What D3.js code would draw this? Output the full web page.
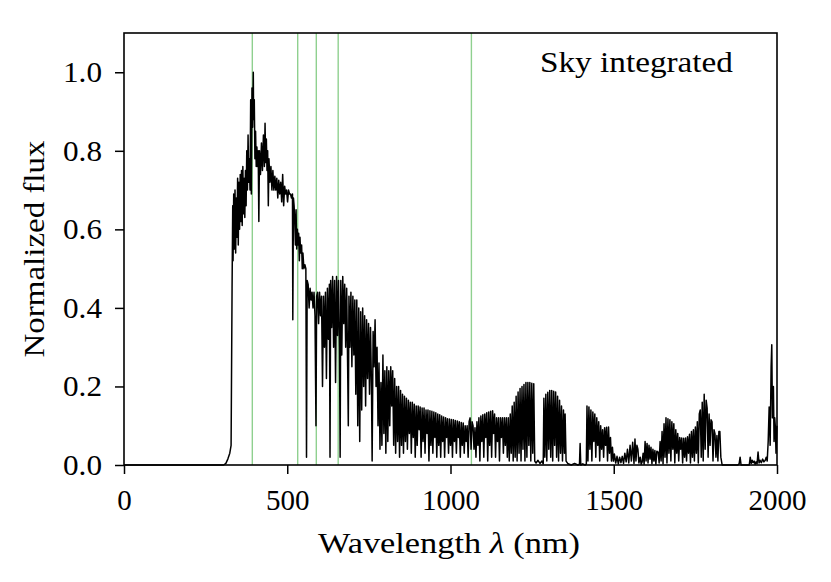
<!DOCTYPE html>
<html>
<head>
<meta charset="utf-8">
<script src="https://cdn.jsdelivr.net/npm/d3@7"></script>
<style>
  body { margin: 0; background: #fff; }
  text { font-family: "Liberation Serif", "DejaVu Serif", serif; fill: #000; }
</style>
</head>
<body>
<div id="chart"></div>
<script>
// [wavelength nm, normalized flux], band by band
const ultraviolet = [
  [0,0],[305,0],[312,0.004],[318,0.015],[324,0.03],[328,0.05],[331,0.45],
  [333,0.66],[334,0.52],[336,0.69],[338,0.55],[340,0.70],[342,0.54],[344,0.68],
  [346,0.58],[348,0.73],[350,0.56],[352,0.72],[354,0.60],[356,0.74],[358,0.62],
  [360,0.75],[362,0.61],[364,0.76],[366,0.64],[368,0.73],[370,0.63],[372,0.75],
  [374,0.66],[376,0.80],[378,0.70],[380,0.84],[382,0.72],[384,0.78],[386,0.70],
  [388,0.93],[390,0.69],[392,0.96],[394,0.86],[396,1.0],[397,0.88]
]
const blueGreen = [
  [399,0.93],[401,0.78],[403,0.85],[405,0.76],[407,0.81],[409,0.76],[411,0.80],
  [413,0.62],[415,0.80],[418,0.74],[421,0.82],[424,0.75],[427,0.84],[430,0.76],
  [432,0.87],[434,0.77],[436,0.83],[438,0.75],[440,0.80],[442,0.66],[444,0.78],
  [447,0.72],[450,0.76],[453,0.70],[456,0.75],[459,0.70],[462,0.735],[465,0.70],
  [468,0.73],[471,0.68],[474,0.725],[477,0.69],[480,0.72],[483,0.67],[486,0.74],
  [489,0.66],[492,0.71],[495,0.69],[498,0.70],[501,0.67],[504,0.70],[507,0.69],
  [510,0.69],[513,0.68],[516,0.69],[517,0.37],[519,0.68],[521,0.66],[523,0.62],
  [525,0.56],[527,0.65],[529,0.55],[531,0.60],[533,0.56],[535,0.59],[537,0.52],
  [539,0.58],[541,0.54],[544,0.56],[546,0.50],[548,0.54],[551,0.50],[554,0.51],
  [557,0.50]
]
const redBand = [
  [559,0.02],[561,0.47],[564,0.46],[567,0.40],[570,0.45],[573,0.42],[576,0.44],
  [579,0.40],[582,0.44],[585,0.38],[588,0.10],[590,0.43],[593,0.44],[596,0.36],
  [599,0.44],[602,0.38],[605,0.43],[608,0.20],[611,0.43],[614,0.30],[617,0.44],
  [620,0.22],[623,0.45],[626,0.32],[629,0.46],[631,0.02],[633,0.47],[636,0.35],
  [639,0.48],[642,0.30],[645,0.47],[648,0.21],[651,0.48],[654,0.33],[657,0.47],
  [660,0.30],[662,0.02],[664,0.47],[667,0.28],[670,0.48],[673,0.36],[676,0.46],
  [679,0.30],[682,0.45],[685,0.25],[687,0.10],[689,0.43],[692,0.30],[695,0.44],
  [698,0.25],[701,0.43],[704,0.28],[707,0.42],[710,0.18],[713,0.42],[716,0.10],
  [719,0.40],[722,0.06],[725,0.39],[728,0.14],[731,0.40],[734,0.20],[737,0.38],
  [740,0.15],[743,0.37],[746,0.22],[749,0.36],[752,0.18],[755,0.35],[758,0.20],
  [760,0.01],[763,0.34],[766,0.25],[769,0.37],[772,0.20],[775,0.30]
]
const nearInfrared = [
  [778,0.10],[781,0.26],[784,0.04],[787,0.21],[790,0.05],[793,0.28],[796,0.08],
  [799,0.24],[802,0.03],[805,0.25],[808,0.06],[811,0.24],[814,0.10],[817,0.25],
  [820,0.15],[823,0.24],[826,0.05],[829,0.22],[832,0.03],[835,0.20],[838,0.06],
  [841,0.20],[844,0.02],[847,0.19],[850,0.05],[853,0.18],[856,0.03],[859,0.175],
  [862,0.06],[865,0.17],[868,0.04],[871,0.165],[874,0.08],[877,0.16],[880,0.03],
  [883,0.16],[886,0.07],[889,0.155],[892,0.02],[895,0.15],[898,0.05],[901,0.15],
  [904,0.09],[907,0.148],[910,0.02],[913,0.145],[916,0.06],[919,0.145],[922,0.03],
  [925,0.14],[928,0.08],[931,0.14],[934,0.01],[937,0.138],[940,0.05],[943,0.137],
  [946,0.03],[949,0.135],[952,0.07],[955,0.133],[958,0.02],[961,0.13],[964,0.05],
  [967,0.128],[970,0.02],[973,0.125],[976,0.06],[979,0.122],[982,0.02],[985,0.12],
  [988,0.07],[991,0.118],[994,0.03],[997,0.117],[1000,0.05],[1003,0.116],[1006,0.02],
  [1009,0.115],[1012,0.06],[1015,0.113],[1018,0.03],[1021,0.112],[1024,0.07],
  [1027,0.11],[1030,0.02],[1033,0.108],[1036,0.05],[1039,0.107],[1042,0.03],
  [1045,0.10],[1048,0.06],[1051,0.10],[1054,0.02],[1057,0.11],[1060,0.12],
  [1063,0.04],[1066,0.11],[1069,0.10]
]
const jBand = [
  [1072,0.04],[1075,0.095],[1078,0.02],[1081,0.11],[1084,0.05],[1087,0.12],
  [1090,0.01],[1093,0.125],[1096,0.06],[1099,0.128],[1102,0.02],[1105,0.13],
  [1108,0.07],[1111,0.133],[1114,0.01],[1117,0.135],[1120,0.05],[1123,0.137],
  [1126,0.02],[1129,0.138],[1132,0.08],[1135,0.13],[1138,0.02],[1141,0.12],
  [1144,0.06],[1147,0.12],[1150,0.01],[1153,0.12],[1156,0.07],[1159,0.12],
  [1162,0.03],[1165,0.12],[1168,0.05],[1171,0.12],[1174,0.02],[1177,0.12],
  [1180,0.01],[1183,0.13],[1186,0.03],[1189,0.15],[1192,0.01],[1195,0.16],
  [1198,0.02],[1201,0.175],[1204,0.01],[1207,0.186],[1210,0.03],[1213,0.195],
  [1216,0.01],[1219,0.20],[1222,0.04],[1225,0.205],[1228,0.01],[1231,0.21],
  [1234,0.02],[1237,0.21],[1240,0.05],[1243,0.21],[1246,0.01],[1249,0.208],
  [1252,0.03],[1255,0.207],[1258,0.01],[1262,0.005],[1268,0.012],[1274,0.004],
  [1280,0.01],[1284,0.003],[1286,0.17],[1289,0.02],[1292,0.18],[1295,0.01],
  [1298,0.185],[1301,0.04],[1304,0.19],[1307,0.02],[1310,0.19],[1313,0.01],
  [1316,0.188],[1319,0.05],[1322,0.186],[1325,0.02],[1328,0.175],[1331,0.01],
  [1334,0.165],[1337,0.03],[1340,0.15],[1343,0.01],[1346,0.14],[1349,0.03],
  [1351,0.13],[1354,0.01],[1360,0.003],[1370,0],[1380,0.004],[1390,0],
  [1395,0.002],[1397,0.055],[1399,0],[1405,0.003],[1412,0],[1416,0.002]
]
const hBand = [
  [1418,0.15],[1421,0.01],[1424,0.148],[1427,0.04],[1430,0.14],[1433,0.01],
  [1436,0.135],[1439,0.06],[1442,0.13],[1445,0.02],[1448,0.12],[1451,0.05],
  [1454,0.11],[1457,0.01],[1460,0.10],[1463,0.04],[1466,0.09],[1469,0.02],
  [1472,0.095],[1475,0.05],[1478,0.096],[1481,0.01],[1484,0.097],[1487,0.03],
  [1490,0.07],[1493,0.01],[1496,0.045],[1499,0.01],[1502,0.028],[1506,0.005],
  [1510,0.022],[1514,0.003],[1518,0.02],[1522,0.006],[1526,0.022],[1530,0.004],
  [1534,0.03],[1538,0.008],[1542,0.04],[1546,0.005],[1550,0.05],[1554,0.01],
  [1558,0.058],[1562,0.004],[1565,0.066],[1568,0.01],[1571,0.05],[1574,0.04],
  [1577,0.005],[1581,0.02],[1584,0.002],[1587,0.008],[1590,0.03],[1593,0.002],
  [1596,0.06],[1599,0.01],[1602,0.055],[1605,0.005],[1608,0.05],[1611,0.015],
  [1614,0.045],[1617,0.003],[1620,0.04],[1623,0.01],[1626,0.037],[1629,0.002],
  [1632,0.035],[1636,0.033],[1639,0.005],[1642,0.06],[1645,0.01],[1648,0.085],
  [1651,0.003],[1654,0.105],[1657,0.02],[1660,0.12],[1663,0.005],[1666,0.118],
  [1669,0.03],[1672,0.115],[1675,0.01],[1678,0.11],[1681,0.04],[1684,0.105],
  [1687,0.005],[1690,0.09],[1693,0.03],[1696,0.08],[1699,0.01],[1702,0.07],
  [1705,0.04],[1708,0.069],[1711,0.005],[1714,0.068],[1717,0.02],[1720,0.069],
  [1723,0.01],[1726,0.072],[1729,0.03],[1732,0.078],[1735,0.005],[1738,0.085],
  [1741,0.02],[1744,0.09],[1747,0.01],[1750,0.097],[1753,0.03],[1756,0.11],
  [1759,0.005],[1762,0.13],[1765,0.14],[1768,0.02],[1771,0.16],[1774,0.01],
  [1777,0.18],[1780,0.04],[1783,0.165],[1786,0.145],[1789,0.02],[1792,0.13],
  [1795,0.05],[1798,0.115],[1801,0.11],[1804,0.01],[1807,0.09],[1810,0.08],
  [1813,0.02],[1816,0.075],[1819,0.01],[1822,0.085],[1825,0.085],[1828,0.02],
  [1832,0]
]
const kEdge = [
  [1880,0],[1884,0.003],[1887,0.02],[1890,0],[1915,0],[1918,0.02],[1921,0.004],
  [1924,0.012],[1927,0.006],[1930,0.01],[1933,0.002],[1936,0.008],[1939,0.003],
  [1942,0.033],[1945,0.005],[1948,0.012],[1952,0.006],[1956,0.015],[1960,0.008],
  [1964,0.012],[1967,0.02],[1970,0.01],[1973,0.06],[1976,0.148],[1979,0.05],
  [1982,0.25],[1984,0.306],[1986,0.12],[1989,0.2],[1991,0.06],[1993,0.12],
  [1995,0.097],[1997,0.03],[2000,0.1]
]
const markerLines = [393, 532, 589, 656, 1064]
const xTicks = [0, 500, 1000, 1500, 2000]
const yTicks = [0, 0.2, 0.4, 0.6, 0.8, 1.0]

const spectrum = [].concat(ultraviolet, blueGreen, redBand, nearInfrared, jBand, hBand, kEdge)

const W = 831, H = 582
const MARGIN = {left: 124, right: 54, top: 33, bottom: 117}
const FS = 29

let svg = d3.select("#chart").append("svg").attr("width", W).attr("height", H)

let x = d3.scaleLinear().domain([0, 2000]).range([MARGIN.left, W - MARGIN.right])
let y = d3.scaleLinear().domain([0, 1.1]).range([H - MARGIN.bottom, MARGIN.top])

let plot = svg.append("g")

plot.selectAll(".marker")
  .data(markerLines)
  .enter().append("line")
  .attr("class", "marker")
  .attr("x1", d => x(d)).attr("x2", d => x(d))
  .attr("y1", y(0)).attr("y2", y(1.1))
  .attr("stroke", "#8fd08f")
  .attr("stroke-width", 1.4)

plot.append("path")
  .datum(spectrum)
  .attr("fill", "none")
  .attr("stroke", "#000")
  .attr("stroke-width", 1.5)
  .attr("stroke-linejoin", "round")
  .attr("d", d3.line().x(d => x(d[0])).y(d => y(d[1])))

let xAxis = svg.append("g")
  .attr("transform", `translate(0,${y(0)})`)
  .call(d3.axisBottom(x).tickValues(xTicks).tickFormat(d3.format("d")).tickSize(9).tickPadding(15))
let yAxis = svg.append("g")
  .attr("transform", `translate(${x(0)},0)`)
  .call(d3.axisLeft(y).tickValues(yTicks).tickFormat(d3.format(".1f")).tickSize(9).tickPadding(13))

for (let ax of [xAxis, yAxis]) {
  ax.select(".domain").remove()
  ax.selectAll(".tick line").attr("stroke", "#000").attr("stroke-width", 1.5)
  ax.selectAll(".tick text").style("font-size", FS + "px")
    .style("font-family", '"Liberation Serif", serif').attr("fill", "#000")
}
yAxis.selectAll(".tick text").attr("textLength", 39).attr("lengthAdjust", "spacingAndGlyphs")

// frame
svg.append("rect")
  .attr("x", x(0)).attr("y", y(1.1))
  .attr("width", x(2000) - x(0)).attr("height", y(0) - y(1.1))
  .attr("fill", "none").attr("stroke", "#000").attr("stroke-width", 1.6)

let xl = svg.append("text")
  .attr("x", 318).attr("y", 553)
  .attr("textLength", 262).attr("lengthAdjust", "spacingAndGlyphs")
  .style("font-size", FS + "px")
xl.append("tspan").text("Wavelength ")
xl.append("tspan").text("λ").style("font-style", "italic")
xl.append("tspan").text(" (nm)")

svg.append("text")
  .attr("transform", `translate(44,${(y(0) + y(1.1)) / 2}) rotate(-90)`)
  .attr("text-anchor", "middle")
  .attr("textLength", 217).attr("lengthAdjust", "spacingAndGlyphs")
  .style("font-size", FS + "px")
  .text("Normalized flux")

svg.append("text")
  .attr("x", 540).attr("y", 72)
  .attr("textLength", 193).attr("lengthAdjust", "spacingAndGlyphs")
  .style("font-size", FS + "px")
  .text("Sky integrated")
</script>
</body>
</html>
